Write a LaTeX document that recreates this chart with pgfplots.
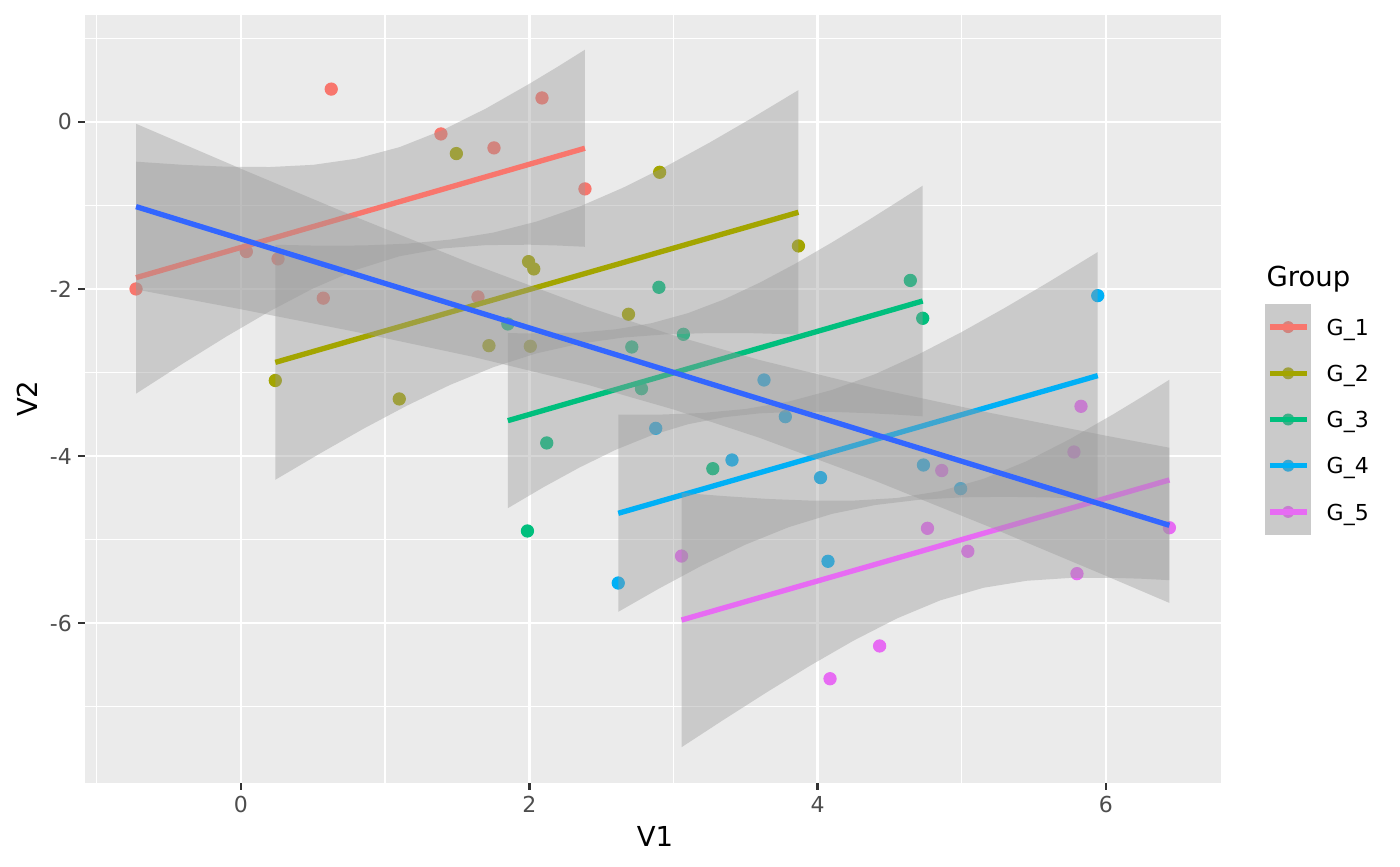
\documentclass[border=0pt]{standalone}
\usepackage{fontspec}
\setmainfont{DejaVu Sans}
\usepackage{pgfplots}
\pgfplotsset{compat=1.18}
\definecolor{panelbg}{HTML}{EBEBEB}
\definecolor{ribc}{HTML}{999999}
\definecolor{tickc}{HTML}{333333}
\definecolor{labc}{HTML}{4D4D4D}
\definecolor{g1c}{HTML}{F8766D}
\definecolor{g2c}{HTML}{A3A500}
\definecolor{g3c}{HTML}{00BF7D}
\definecolor{g4c}{HTML}{00B0F6}
\definecolor{g5c}{HTML}{E76BF3}
\definecolor{allc}{HTML}{3366FF}
\pgfplotsset{
  pts/.style={only marks, color=#1, mark=*, mark size=2.45pt, forget plot, mark options={solid, draw=none, fill=#1}},
  rib/.style={fill=ribc, fill opacity=0.4, draw=none, forget plot},
  fit/.style={draw=#1, line width=2.13pt, forget plot, mark=none},
}
\begin{document}
\begin{tikzpicture}
\path[use as bounding box] (0pt,0pt) rectangle (560pt,346.4pt);
\begin{axis}[
  at={(34pt,33.32pt)}, anchor=south west,
  scale only axis, width=454.4pt, height=307.1pt,
  xmin=-1.082, xmax=6.798, ymin=-7.912, ymax=1.281,
  clip marker paths=true,
  axis background/.style={fill=panelbg},
  axis line style={draw=none},
  xtick={0,2,4,6}, xticklabels={0,2,4,6},
  ytick={-6,-4,-2,0}, yticklabels={-6,-4,-2,0},
  minor xtick={-1,1,3,5}, minor ytick={-7,-5,-3,-1,1},
  grid=both,
  major grid style={draw=white, line width=1.07pt},
  minor grid style={draw=white, line width=0.53pt},
  tick align=outside, major tick length=2.75pt, minor tick length=0pt,
  xtick pos=bottom, ytick pos=left,
  tick style={draw=tickc, line width=1.07pt},
  tick label style={font=\fontsize{8.8}{10}\selectfont, text=labc, inner sep=0pt},
  xticklabel style={anchor=north, yshift=-2.6pt},
  yticklabel style={anchor=east, xshift=-2.3pt},
  legend style={draw=none, fill=none, at={(1.0387,0.6235)}, anchor=north west,
    inner xsep=0pt, inner ysep=0pt, outer sep=0pt, row sep=0pt, column sep=0pt,
    nodes={inner sep=0pt, text depth=0pt, text=black, font=\fontsize{8.8}{10}\selectfont},
    cells={anchor=west}},
  legend cell align=left,
  legend image code/.code={
    \fill[fill=panelbg, draw=none] (0pt,-9.24pt) rectangle (18.4pt,9.24pt);
    \fill[#1, draw=none] (9.3pt,0pt) circle[radius=2.4pt];
    \fill[fill=ribc, fill opacity=0.4, draw=none] (0pt,-9.24pt) rectangle (18.4pt,9.24pt);
    \draw[#1, line width=2.13pt, fill=none] (2.0pt,0pt) -- (16.7pt,0pt);
    \path[draw=none, fill=none] (0pt,0pt) -- (24.7pt,0pt);
  },
]
% points
\addplot[pts=g1c] coordinates {(-0.728,-2.0) (0.037,-1.552) (0.257,-1.640) (0.571,-2.110) (0.626,0.393) (1.387,-0.144) (1.755,-0.311) (1.644,-2.096) (2.088,0.287) (2.386,-0.802)};
\addplot[pts=g2c] coordinates {(0.238,-3.096) (1.098,-3.317) (1.494,-0.379) (1.995,-1.673) (2.031,-1.760) (1.720,-2.679) (2.007,-2.686) (2.688,-2.303) (2.904,-0.603) (3.867,-1.485)};
\addplot[pts=g3c] coordinates {(1.851,-2.419) (2.711,-2.695) (2.778,-3.194) (2.899,-1.980) (3.069,-2.543) (4.643,-1.898) (4.729,-2.351) (2.121,-3.844) (1.987,-4.898) (3.273,-4.152)};
\addplot[pts=g4c] coordinates {(2.617,-5.521) (2.877,-3.669) (3.406,-4.048) (3.628,-3.090) (3.776,-3.529) (4.020,-4.259) (4.072,-5.261) (4.734,-4.108) (4.992,-4.391) (5.943,-2.080)};
\addplot[pts=g5c] coordinates {(5.827,-3.405) (5.778,-3.952) (4.762,-4.866) (4.861,-4.174) (5.042,-5.141) (5.799,-5.409) (6.440,-4.859) (4.430,-6.275) (4.086,-6.667) (3.056,-5.198)};
% G1
\addplot[rib] coordinates {(-0.728,-0.476) (-0.4,-0.514) (-0.1,-0.536) (0.2,-0.540) (0.5,-0.514) (0.8,-0.440) (1.1,-0.302) (1.4,-0.097) (1.7,0.161) (2.0,0.456) (2.2,0.664) (2.386,0.865)
 (2.386,-1.495) (2.2,-1.480) (2.0,-1.470) (1.7,-1.475) (1.4,-1.515) (1.1,-1.608) (0.8,-1.770) (0.5,-1.994) (0.2,-2.266) (-0.1,-2.568) (-0.4,-2.890) (-0.728,-3.254)};
\addplot[fit=g1c] coordinates {(-0.728,-1.865) (2.386,-0.315)};
% G2
\addplot[rib] coordinates {(0.238,-1.471) (0.55,-1.482) (0.85,-1.479) (1.15,-1.458) (1.45,-1.409) (1.75,-1.325) (2.05,-1.193) (2.35,-1.013) (2.65,-0.788) (2.95,-0.531) (3.25,-0.248) (3.55,0.052) (3.867,0.381)
 (3.867,-2.545) (3.55,-2.530) (3.25,-2.528) (2.95,-2.543) (2.65,-2.582) (2.35,-2.655) (2.05,-2.771) (1.75,-2.937) (1.45,-3.149) (1.15,-3.398) (0.85,-3.673) (0.55,-3.968) (0.238,-4.285)};
\addplot[fit=g2c] coordinates {(0.238,-2.879) (3.867,-1.082)};
% G3
\addplot[rib] coordinates {(1.851,-2.529) (2.1,-2.534) (2.35,-2.522) (2.6,-2.483) (2.85,-2.409) (3.1,-2.290) (3.35,-2.126) (3.6,-1.923) (3.85,-1.693) (4.1,-1.442) (4.35,-1.179) (4.55,-0.961) (4.729,-0.763)
 (4.729,-3.525) (4.55,-3.505) (4.35,-3.487) (4.1,-3.472) (3.85,-3.471) (3.6,-3.489) (3.35,-3.536) (3.1,-3.620) (2.85,-3.751) (2.6,-3.925) (2.35,-4.136) (2.1,-4.372) (1.851,-4.625)};
\addplot[fit=g3c] coordinates {(1.851,-3.577) (4.729,-2.144)};
% G4
\addplot[rib] coordinates {(2.617,-3.506) (2.9,-3.505) (3.2,-3.485) (3.5,-3.437) (3.8,-3.348) (4.1,-3.209) (4.4,-3.019) (4.7,-2.783) (5.0,-2.515) (5.3,-2.225) (5.6,-1.920) (5.943,-1.558)
 (5.943,-4.518) (5.6,-4.496) (5.3,-4.489) (5.0,-4.495) (4.7,-4.525) (4.4,-4.587) (4.1,-4.693) (3.8,-4.852) (3.5,-5.061) (3.2,-5.309) (2.9,-5.587) (2.617,-5.866)};
\addplot[fit=g4c] coordinates {(2.617,-4.686) (5.943,-3.038)};
% G5
\addplot[rib] coordinates {(3.056,-4.441) (3.35,-4.480) (3.65,-4.514) (3.95,-4.534) (4.25,-4.534) (4.55,-4.503) (4.85,-4.421) (5.15,-4.274) (5.45,-4.062) (5.75,-3.798) (6.05,-3.501) (6.25,-3.292) (6.44,-3.087)
 (6.44,-5.487) (6.25,-5.470) (6.05,-5.459) (5.75,-5.460) (5.45,-5.494) (5.15,-5.578) (4.85,-5.729) (4.55,-5.945) (4.25,-6.210) (3.95,-6.508) (3.65,-6.826) (3.35,-7.156) (3.056,-7.487)};
\addplot[fit=g5c] coordinates {(3.056,-5.964) (6.44,-4.287)};
% overall
\addplot[rib] coordinates {(-0.728,-0.022) (0,-0.561) (0.8,-1.141) (1.6,-1.697) (2.4,-2.213) (3.0,-2.555) (3.6,-2.852) (4.4,-3.190) (5.2,-3.485) (6.0,-3.757) (6.44,-3.901)
 (6.44,-5.759) (6.0,-5.435) (5.2,-4.855) (4.4,-4.298) (3.6,-3.784) (3.0,-3.443) (2.4,-3.145) (1.6,-2.809) (0.8,-2.515) (0,-2.243) (-0.728,-2.006)};
\addplot[fit=allc] coordinates {(-0.728,-1.014) (6.44,-4.830)};
% legend
\addlegendimage{color=g1c}\addlegendentry{G\_1}
\addlegendimage{color=g2c}\addlegendentry{G\_2}
\addlegendimage{color=g3c}\addlegendentry{G\_3}
\addlegendimage{color=g4c}\addlegendentry{G\_4}
\addlegendimage{color=g5c}\addlegendentry{G\_5}
\end{axis}
\node[anchor=base, inner sep=0pt, font=\fontsize{11}{13}\selectfont] at (262pt,8.0pt) {V1};
\node[rotate=90, anchor=base, inner sep=0pt, font=\fontsize{11}{13}\selectfont] at (14.9pt,186.9pt) {V2};
\node[anchor=base west, inner sep=0pt, font=\fontsize{11}{13}\selectfont] at (506.4pt,231.7pt) {Group};
\end{tikzpicture}
\end{document}
